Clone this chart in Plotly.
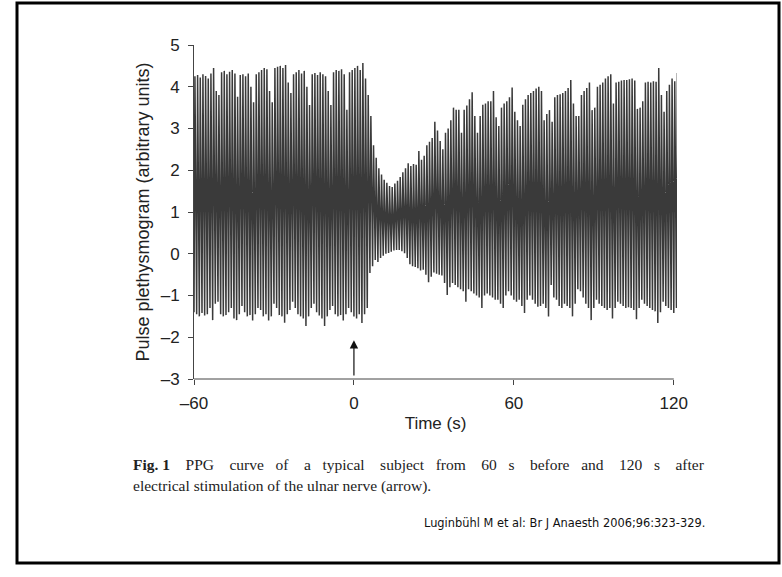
import plotly.graph_objects as go

# Beat-by-beat values (one beat per second, starting at t = -60 s)
beat_start = -60.0
beat_interval = 1.0
peaks = [
    4.25, 4.28, 4.22, 4.30, 4.26, 4.20, 4.32,            # -60..-54
    4.45, 3.90, 3.80, 4.35, 4.38, 4.30, 4.36, 4.40, 4.32, # -53..-45
    3.76, 4.28, 4.30, 4.25, 4.32, 4.00, 3.63,            # -44..-38
    4.30, 4.35, 4.40, 4.45, 4.42, 3.90, 3.63,            # -37..-31
    4.45, 4.48, 4.50, 4.45, 4.52, 4.10, 3.85,            # -30..-24
    4.30, 4.35, 4.40, 4.32, 4.38, 4.00, 3.56,            # -23..-17
    4.30, 4.33, 4.28, 4.35, 4.30, 4.25, 3.90, 3.56,      # -16..-9
    4.35, 4.40, 4.38, 4.42, 4.30, 3.45,                  # -8..-3
    4.35, 4.40, 4.45, 4.50, 4.40, 4.57, 4.20, 3.80,      # -2..5
    3.30, 2.60, 2.30, 2.05, 1.90, 1.77, 1.70, 1.62,      # 6..13
    1.60, 1.68, 1.75, 1.84, 1.95, 2.05, 2.17, 2.10,      # 14..21
    2.15, 2.13, 2.46, 2.25, 2.35, 2.60, 2.68, 2.77,      # 22..29
    3.16, 2.95, 2.70, 2.50, 2.90, 3.00, 3.20, 3.50,      # 30..37
    3.45, 3.45, 2.90, 3.45, 3.55, 3.70, 3.87, 3.30,      # 38..45
    2.90, 3.30, 3.57, 3.60, 3.65, 3.65, 3.90, 3.27,      # 46..53
    3.06, 3.50, 3.60, 3.65, 3.75, 3.98, 3.40, 3.20,      # 54..61
    3.06, 3.57, 3.70, 3.80, 3.85, 3.90, 3.96, 4.00,      # 62..69
    3.90, 3.20, 3.35, 3.44, 3.16, 3.75, 3.80, 3.82,      # 70..77
    3.85, 3.90, 3.97, 4.16, 3.60, 3.30, 3.30, 3.80,      # 78..85
    3.90, 3.97, 4.10, 3.44, 3.50, 4.00, 4.05, 4.10,      # 86..93
    4.20, 4.25, 4.30, 3.60, 4.10, 4.12, 4.15, 4.16,      # 94..101
    4.16, 4.18, 4.20, 4.15, 3.47, 3.50, 3.65, 4.10,      # 102..109
    4.12, 4.10, 4.13, 4.12, 4.45, 3.80, 3.40, 3.90,      # 110..117
    4.05, 4.20, 4.13, 4.33,                              # 118..121
]
troughs = [
    -1.40, -1.45, -1.50, -1.42, -1.48, -1.45, -1.30,          # -60..-54
    -1.59, -1.20, -1.15, -1.45, -1.50, -1.47, -1.40, -1.30, -1.55,  # -53..-45
    -1.59, -1.45, -1.25, -1.40, -1.50, -1.47, -1.60,          # -44..-38
    -1.45, -1.30, -1.35, -1.50, -1.45, -1.60, -1.50,          # -37..-31
    -1.20, -1.30, -1.47, -1.50, -1.65, -1.45, -1.35,          # -30..-24
    -1.15, -1.30, -1.45, -1.50, -1.55, -1.73, -1.50,          # -23..-17
    -1.30, -1.20, -1.40, -1.48, -1.55, -1.73, -1.50, -1.35,   # -16..-9
    -1.25, -1.45, -1.50, -1.47, -1.60, -1.45,                 # -8..-3
    -1.30, -1.40, -1.50, -1.55, -1.45, -1.66, -1.45, -1.30,   # -2..5
    -0.46, -0.30, -0.15, -0.20, -0.10, -0.05, 0.00, 0.02,     # 6..13
    0.05, 0.08, 0.09, 0.09, 0.06, 0.01, -0.10, -0.25,         # 14..21
    -0.30, -0.32, -0.35, -0.40, -0.38, -0.50, -0.68, -0.55,   # 22..29
    -0.45, -0.48, -0.50, -0.52, -0.70, -0.99, -0.80, -0.70,   # 30..37
    -0.75, -0.80, -0.85, -0.90, -1.15, -0.85, -0.90, -0.95,   # 38..45
    -1.00, -1.05, -1.30, -1.00, -0.95, -1.00, -1.05, -1.10,   # 46..53
    -1.10, -1.20, -1.30, -1.00, -0.90, -1.00, -1.10, -1.15,   # 54..61
    -1.10, -1.25, -1.42, -1.10, -1.00, -1.10, -1.20, -1.27,   # 62..69
    -1.25, -1.20, -1.30, -1.50, -0.75, -1.05, -1.10, -1.25,   # 70..77
    -1.30, -1.20, -1.25, -1.30, -1.50, -1.20, -0.85, -0.90,   # 78..85
    -1.05, -1.20, -1.30, -1.59, -1.30, -1.10, -1.20, -1.25,   # 86..93
    -1.30, -1.35, -1.30, -1.55, -1.30, -1.15, -1.20, -1.25,   # 94..101
    -1.30, -1.28, -1.30, -1.35, -1.57, -1.30, -1.10, -1.20,   # 102..109
    -1.25, -1.30, -1.35, -1.38, -1.66, -1.40, -1.15, -1.25,   # 110..117
    -1.30, -1.35, -1.42, -1.30,                               # 118..121
]
x_ticks = [-60, 0, 60, 120]
y_ticks = [-3, -2, -1, 0, 1, 2, 3, 4, 5]
stim_time = 0

n = min(len(peaks), len(troughs))
t_vals, y_vals = [], []
for i in range(n):
    t0 = beat_start + i * beat_interval
    t_vals += [t0, t0 + 0.35 * beat_interval]
    y_vals += [troughs[i], peaks[i]]

fig = go.Figure()
fig.add_trace(go.Scatter(x=t_vals, y=y_vals, mode="lines",
                         line=dict(color="#3a3a3a", width=1.5),
                         hoverinfo="skip", showlegend=False))

W, H = 782, 577
L, R, T, B = 194, 105, 45, 198
pw, ph = W - L - R, H - T - B

def px(xp):
    return (xp - L) / pw

def py(yp):
    return (H - B - yp) / ph

sans = "Liberation Sans, Arial, sans-serif"
tick_font = dict(family=sans, size=17, color="#222222")

fig.update_layout(
    width=W, height=H,
    margin=dict(l=L, r=R, t=T, b=B, autoexpand=False),
    paper_bgcolor="white", plot_bgcolor="white",
    xaxis=dict(range=[-60, 121.2], tickvals=x_ticks, ticktext=[str(v).replace("-", "\u2013") for v in x_ticks],
               ticks="outside", ticklen=5, tickcolor="#444", tickwidth=1, ticklabelstandoff=4,
               showline=False, showgrid=False, zeroline=False, tickfont=tick_font,
               title=dict(text="Time (s)", font=dict(family=sans, size=17, color="#222"),
                          standoff=4)),
    yaxis=dict(range=[-3, 5], tickvals=y_ticks, ticktext=[str(v).replace("-", "\u2013") for v in y_ticks],
               ticks="outside", ticklen=5, tickcolor="#444", tickwidth=1, ticklabelstandoff=5,
               showline=True, linecolor="#444", linewidth=1,
               showgrid=False, zeroline=False, tickfont=tick_font,
               title=dict(text="Pulse plethysmogram (arbitrary units)",
                          font=dict(family=sans, size=18, color="#222"),
                          standoff=6)),
)

# x axis line from -60 to 120
fig.add_shape(type="line", xref="x", yref="paper", x0=-60, x1=120, y0=0, y1=0,
              line=dict(color="#444", width=1))

# stimulation arrow
fig.add_annotation(x=stim_time, y=-2.07, ax=stim_time, ay=-2.95, xref="x", yref="y",
                   axref="x", ayref="y", text="", showarrow=True,
                   arrowhead=2, arrowsize=1.4, arrowwidth=1.2, arrowcolor="#111")

# caption (first line is justified in the original, hence wider word gaps)
cap_font = dict(family="Liberation Serif, Times New Roman, serif", size=15.5, color="#222")
g2 = " \u00a0\u00a0"
g3 = " \u00a0\u00a0\u00a0"
line1_words = ["PPG", "curve", "of", "a", "typical", "subject", "from", "60", "s", "before", "and", "120", "s", "after"]
line1 = "<b>Fig.\u00a01</b>" + g3
for i, w in enumerate(line1_words):
    line1 += w + ((g3 if i % 2 == 0 else g2) if i < len(line1_words) - 1 else "")
fig.add_annotation(xref="paper", yref="paper", x=px(131), y=py(464), xanchor="left", yanchor="middle",
                   showarrow=False, font=cap_font, text=line1)
fig.add_annotation(xref="paper", yref="paper", x=px(131), y=py(486), xanchor="left", yanchor="middle",
                   showarrow=False, font=cap_font,
                   text="electrical stimulation of the ulnar nerve (arrow).")
fig.add_annotation(xref="paper", yref="paper", x=px(707), y=py(523), xanchor="right", yanchor="middle",
                   showarrow=False, font=dict(family="DejaVu Sans, Verdana, sans-serif", size=11.4, color="#111"),
                   text="Luginbühl M et al: Br J Anaesth 2006;96:323-329.")

# outer frame
fig.add_shape(type="rect", xref="paper", yref="paper", x0=px(17), x1=px(779), y0=py(3), y1=py(563),
              line=dict(color="black", width=3), layer="above")

fig.write_html("out.html", config={"displayModeBar": False, "staticPlot": True},
               post_script="document.body.style.margin='0';document.body.style.overflow='hidden';")
